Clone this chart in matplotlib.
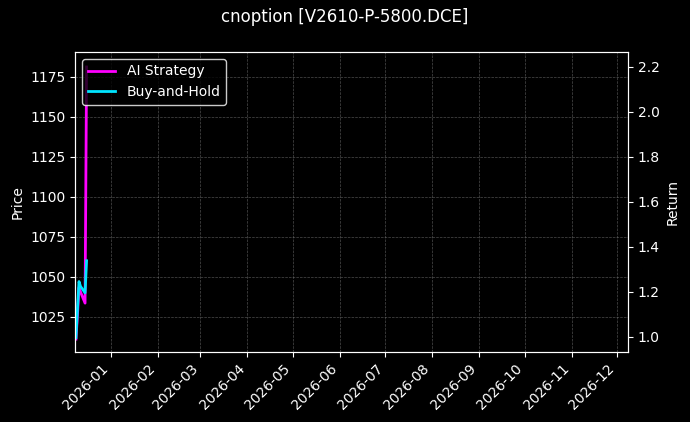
import matplotlib
matplotlib.use("Agg")
import matplotlib.pyplot as plt
import matplotlib.dates as mdates
import pandas as pd

dates = pd.to_datetime(["2025-12-09", "2025-12-10", "2025-12-11", "2025-12-12",
                        "2025-12-15", "2025-12-16"])
price = [1012, 1030, 1047, 1044, 1040, 1060]
strategy_return = [0.99, 1.10, 1.22, 1.20, 1.15, 2.20]

plt.style.use("dark_background")
fig, ax = plt.subplots(figsize=(6.9, 4.22), dpi=100)
fig.patch.set_facecolor("black")
ax.set_facecolor("#080808")
ax2 = ax.twinx()

l1, = ax2.plot(dates, strategy_return, color="#ff00ff", lw=2, label="AI Strategy")
l2, = ax.plot(dates, price, color="#00e5ff", lw=2, label="Buy-and-Hold")
ax.set_zorder(ax2.get_zorder() + 1)
ax.patch.set_visible(False)

ax.set_xlim(pd.Timestamp("2025-12-08 12:00"), pd.Timestamp("2026-12-08"))
ax.set_ylim(1003, 1190.6)
ax2.set_ylim(0.933, 2.267)
ax.set_ylabel("Price")
ax2.set_ylabel("Return")
ax.xaxis.set_major_locator(mdates.MonthLocator())
ax.xaxis.set_major_formatter(mdates.DateFormatter("%Y-%m"))
plt.setp(ax.get_xticklabels(), rotation=45, ha="right")
ax.grid(True, color="gray", ls="--", lw=0.5, alpha=0.6)

ax.legend([l1, l2], ["AI Strategy", "Buy-and-Hold"], loc="upper left",
          facecolor="black", edgecolor="white", framealpha=0.8)
fig.suptitle("cnoption [V2610-P-5800.DCE]")
fig.subplots_adjust(left=0.109, right=0.91, top=0.877, bottom=0.166)
fig.savefig("out.png", facecolor="black")
